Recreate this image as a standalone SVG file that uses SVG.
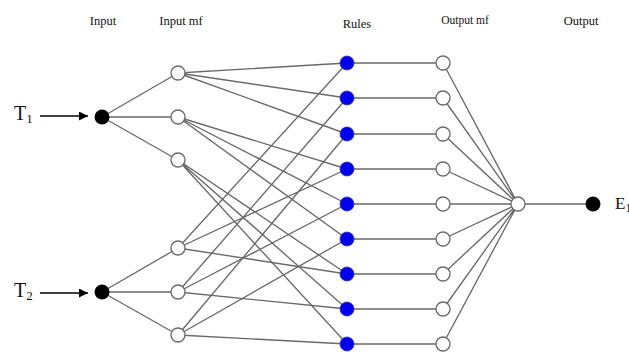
<svg xmlns="http://www.w3.org/2000/svg" width="629" height="352" viewBox="0 0 629 352">
<style>
.t{font-family:"Liberation Serif","Times New Roman",serif;fill:#111}
.lbl{font-size:12.5px;text-anchor:middle}
.c{stroke:#6a6a6a;stroke-width:1.35;fill:none}
.mf{fill:#fff;stroke:#6a6a6a;stroke-width:1.35}
.rule{fill:#0000ee;stroke:#3030a0;stroke-width:0.8}
.inp{fill:#000}
</style>
<defs>
<marker id="ah" viewBox="0 0 10 10" refX="10" refY="5" markerWidth="9" markerHeight="9" markerUnits="userSpaceOnUse" orient="auto">
<path d="M0,0 L10,5 L0,10 Z" fill="#000"/>
</marker>
</defs>
<rect width="629" height="352" fill="#fff"/>
<g id="headers">
<text class="t lbl" x="103" y="25">Input</text>
<text class="t lbl" x="181" y="25">Input mf</text>
<text class="t lbl" x="357" y="28">Rules</text>
<text class="t lbl" x="465" y="24" style="font-size:11.5px">Output mf</text>
<text class="t lbl" x="581" y="25">Output</text>
</g>
<g id="connectors">
<line x1="40" y1="116" x2="88" y2="116" stroke="#000" stroke-width="1.5" marker-end="url(#ah)"/>
<line x1="40" y1="293" x2="88" y2="293" stroke="#000" stroke-width="1.5" marker-end="url(#ah)"/>
<path class="c" d="M102,117 L178,73 M102,117 L178,117 M102,117 L178,160"/>
<path class="c" d="M102,292 L178,248 M102,292 L178,292 M102,292 L178,335"/>
<path class="c" d="M178,73 L347,63 M178,73 L347,98 M178,73 L347,134"/>
<path class="c" d="M178,117 L347,169 M178,117 L347,204 M178,117 L347,239"/>
<path class="c" d="M178,160 L347,274 M178,160 L347,309 M178,160 L347,344"/>
<path class="c" d="M178,248 L347,63 M178,248 L347,169 M178,248 L347,274"/>
<path class="c" d="M178,292 L347,98 M178,292 L347,204 M178,292 L347,309"/>
<path class="c" d="M178,335 L347,134 M178,335 L347,239 M178,335 L347,344"/>
<path class="c" d="M347,63 L443,63 M347,98 L443,98 M347,134 L443,134 M347,169 L443,169 M347,204 L443,204 M347,239 L443,239 M347,274 L443,274 M347,309 L443,309 M347,344 L443,344"/>
<path class="c" d="M443,63 L518,204 M443,98 L518,204 M443,134 L518,204 M443,169 L518,204 M443,204 L518,204 M443,239 L518,204 M443,274 L518,204 M443,309 L518,204 M443,344 L518,204"/>
<path class="c" d="M518,204 L593,204"/>
</g>
<g id="T1"><text class="t" x="14" y="120" font-size="20">T<tspan font-size="13" dy="3">1</tspan></text></g>
<g id="T2"><text class="t" x="14" y="297" font-size="20">T<tspan font-size="13" dy="3">2</tspan></text></g>
<g id="in1"><circle class="inp" cx="102" cy="117" r="7.5"/></g>
<g id="in2"><circle class="inp" cx="102" cy="292" r="7.5"/></g>
<g id="imf1"><circle class="mf" cx="178" cy="73" r="7"/></g>
<g id="imf2"><circle class="mf" cx="178" cy="117" r="7"/></g>
<g id="imf3"><circle class="mf" cx="178" cy="160" r="7"/></g>
<g id="imf4"><circle class="mf" cx="178" cy="248" r="7"/></g>
<g id="imf5"><circle class="mf" cx="178" cy="292" r="7"/></g>
<g id="imf6"><circle class="mf" cx="178" cy="335" r="7"/></g>
<g id="r1"><circle class="rule" cx="347" cy="63" r="7"/></g>
<g id="r2"><circle class="rule" cx="347" cy="98" r="7"/></g>
<g id="r3"><circle class="rule" cx="347" cy="134" r="7"/></g>
<g id="r4"><circle class="rule" cx="347" cy="169" r="7"/></g>
<g id="r5"><circle class="rule" cx="347" cy="204" r="7"/></g>
<g id="r6"><circle class="rule" cx="347" cy="239" r="7"/></g>
<g id="r7"><circle class="rule" cx="347" cy="274" r="7"/></g>
<g id="r8"><circle class="rule" cx="347" cy="309" r="7"/></g>
<g id="r9"><circle class="rule" cx="347" cy="344" r="7"/></g>
<g id="omf1"><circle class="mf" cx="443" cy="63" r="7"/></g>
<g id="omf2"><circle class="mf" cx="443" cy="98" r="7"/></g>
<g id="omf3"><circle class="mf" cx="443" cy="134" r="7"/></g>
<g id="omf4"><circle class="mf" cx="443" cy="169" r="7"/></g>
<g id="omf5"><circle class="mf" cx="443" cy="204" r="7"/></g>
<g id="omf6"><circle class="mf" cx="443" cy="239" r="7"/></g>
<g id="omf7"><circle class="mf" cx="443" cy="274" r="7"/></g>
<g id="omf8"><circle class="mf" cx="443" cy="309" r="7"/></g>
<g id="omf9"><circle class="mf" cx="443" cy="344" r="7"/></g>
<g id="out"><circle class="mf" cx="518" cy="204" r="7"/></g>
<g id="E1"><circle class="inp" cx="593" cy="204" r="7.5"/><text class="t" x="615" y="209" font-size="17">E<tspan font-size="12" dy="3">1</tspan></text></g>
</svg>
